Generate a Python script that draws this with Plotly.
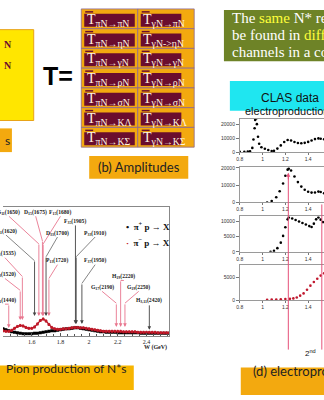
import plotly.graph_objects as go

FIG_W, FIG_H = 324, 400


def px(x):
    return x / FIG_W


def py(y):
    return 1 - y / FIG_H


# ---------------- data ----------------
# total pion-proton cross sections (arbitrary units) vs W (GeV)
pi_w = [1.40, 1.42, 1.44, 1.46, 1.48, 1.50, 1.52, 1.54, 1.56, 1.58, 1.60, 1.62, 1.64, 1.66,
        1.68, 1.70, 1.72, 1.74, 1.76, 1.78, 1.80, 1.82, 1.84, 1.86, 1.88, 1.90, 1.92, 1.94,
        1.96, 1.98, 2.00, 2.02, 2.04, 2.06, 2.08, 2.10, 2.12, 2.14, 2.16, 2.18, 2.20, 2.22,
        2.24, 2.26, 2.28, 2.30, 2.32, 2.34, 2.36, 2.38, 2.40, 2.42, 2.44, 2.46, 2.48, 2.50,
        2.52, 2.54, 2.56]
pim_sigma = [5, 4.5, 4.5, 5.5, 7.5, 9.5, 10.5, 10, 8.5, 7.5, 7.5, 9, 12, 15.5,
             17, 15, 11.5, 8.5, 7, 6.5, 6.5, 7, 7, 7.5, 8, 8.5, 8.5, 8,
             8, 7.5, 7, 6.5, 6, 5.5, 5, 4.5, 4.5, 4.5, 4.5, 4.5, 4.5, 4.5,
             4, 4, 4, 4, 4, 3.5, 3.5, 3.5, 3.5, 3.5, 3.5, 3.5, 3, 3,
             3, 3, 3]
pip_sigma = [7, 6, 5, 4, 3.5, 3, 2.5, 2, 2, 2, 2, 2.5, 2.5, 3,
             3.5, 4, 4.5, 5, 5, 5.5, 6, 6.5, 7, 7, 7.5, 8, 8, 7.5,
             7, 6.5, 6, 5.5, 5, 4.5, 4, 4, 3.5, 3.5, 3.5, 3.5, 3, 3,
             3, 3, 3, 3, 3, 3, 2.5, 2.5, 2.5, 2.5, 2.5, 2.5, 2.5, 2.5,
             2.5, 2.5, 2.5]

# resonances marked on the pion-production plot
res_name = ["S<sub>11</sub>(1650)", "D<sub>15</sub>(1675)", "F<sub>15</sub>(1680)",
            "F<sub>35</sub>(1905)", "S<sub>31</sub>(1620)", "D<sub>33</sub>(1700)",
            "P<sub>33</sub>(1910)", "S<sub>11</sub>(1535)", "P<sub>13</sub>(1720)",
            "F<sub>37</sub>(1950)", "D<sub>13</sub>(1520)", "H<sub>19</sub>(2220)",
            "G<sub>17</sub>(2190)", "G<sub>19</sub>(2250)", "P<sub>11</sub>(1440)",
            "H<sub>3,11</sub>(2420)"]
res_mass = [1.650, 1.675, 1.680, 1.905, 1.620, 1.700, 1.910, 1.535, 1.720, 1.950,
            1.520, 2.220, 2.190, 2.250, 1.440, 2.420]
res_isospin = ["N", "N", "N", "D", "D", "D", "D", "N", "N", "D", "N", "N", "N", "N", "N", "D"]

# electroproduction yields vs W (GeV)
e_w1 = [0.80, 0.84, 0.87, 0.89, 0.91, 0.92, 0.93, 0.935, 0.94, 0.945, 0.95, 0.96, 0.97,
        0.99, 1.02, 1.05, 1.08, 1.10, 1.13, 1.16, 1.19, 1.22, 1.25, 1.28, 1.31, 1.34,
        1.37, 1.40, 1.43, 1.46, 1.49, 1.51, 1.54]
e_y1 = [300, 300, 350, 600, 3000, 9000, 17000, 23000, 26000, 24000, 20000, 11000, 6000,
        3500, 2400, 1500, 800, 900, 2500, 4800, 7200, 8600, 8300, 7200, 6500, 6300,
        6600, 7300, 8300, 9300, 9800, 9600, 9200]

e_w2 = [1.04, 1.08, 1.12, 1.15, 1.18, 1.20, 1.22, 1.23, 1.25, 1.28, 1.31, 1.34, 1.37,
        1.40, 1.43, 1.46, 1.49, 1.51, 1.54]
e_y2 = [0, 800, 3000, 6500, 11000, 15500, 19000, 19500, 18500, 15000, 11800, 9200, 7400,
        6200, 5700, 5800, 6300, 6100, 5300]

e_w3 = [1.07, 1.10, 1.13, 1.16, 1.18, 1.20, 1.22, 1.23, 1.26, 1.29, 1.32, 1.35, 1.38,
        1.41, 1.43, 1.45, 1.47, 1.49, 1.51, 1.53]
e_y3 = [0, 300, 1200, 3000, 5200, 8000, 10600, 11200, 10900, 10400, 9900, 9400, 8900,
        8400, 8100, 9200, 10600, 11200, 10500, 9700]

e_w4 = [1.04, 1.08, 1.12, 1.16, 1.20, 1.24, 1.27, 1.30, 1.33, 1.36, 1.39, 1.42, 1.45,
        1.48, 1.51, 1.54]
e_y4 = [100, 150, 150, 200, 250, 300, 400, 600, 1000, 1500, 2300, 3200, 4000, 4700,
        5400, 5900]

row_channels = ["πN", "ηN", "γN", "ρN", "σN", "KΛ", "KΣ"]
col_initial = ["πN", "γN"]

e_xticks = [0.8, 1, 1.2, 1.4]
e_xtick_text = ["0.8", "1", "1.2", "1.4"]
pi_xticks = [1.4, 1.6, 1.8, 2.0, 2.2, 2.4]
pi_xtick_text = ["1.4", "1.6", "1.8", "2", "2.2", "2.4"]

# ---------------- styling ----------------
ORANGE = "#F3A90F"
MAROON = "#6A0D2E"
PINK = "#E8768E"
GREY = "#777777"
SERIF = "Liberation Serif"
SANS = "Liberation Sans"
HUM = "Lato"

fig = go.Figure()
shapes = []
ann = []

# ---------------- pion production plot ----------------
PI_L, PI_R, PI_T, PI_B = 0, 168, 208, 338
pi_x0, pi_x1 = 1.40, 1.40 + (PI_R - PI_L) / 144.8


def wpx(w):
    return PI_L + (w - pi_x0) * 144.8


fig.add_trace(go.Scatter(x=pi_w, y=pip_sigma, mode="lines+markers",
                         line=dict(color="black", width=1.6),
                         marker=dict(color="black", size=3, symbol="square"),
                         xaxis="x", yaxis="y", showlegend=False))
fig.add_trace(go.Scatter(x=pi_w, y=pim_sigma, mode="lines+markers",
                         line=dict(color="#B01020", width=1.3),
                         marker=dict(color="#C01828", size=3),
                         error_y=dict(type="constant", value=1.0, color="#C01828",
                                      thickness=0.6, width=1),
                         xaxis="x", yaxis="y", showlegend=False))

# label placement (pixel positions of label centre) and line geometry
lab_xy = [(6, 213), (33, 213), (58, 213), (73, 222), (3, 232), (55, 234), (93, 234),
          (2, 255), (55, 262), (93, 262), (2, 276), (122, 278), (100, 289), (137, 289),
          (2, 302), (147, 302)]
kink_y = [245, 242, 245, 226, 262, 258, 258, 278, 280, 285, 292, 282, 305, 305, 306, 306]
tip_y = [318, 318, 318, 326, 318, 318, 326, 322, 318, 326, 322, 329, 329, 329, 330, 332]

for name, m, iso, (lx, ly), ky, ty in zip(res_name, res_mass, res_isospin, lab_xy, kink_y, tip_y):
    col = PINK if iso == "N" else GREY
    ann.append(dict(text=f"<b>{name}</b>", x=px(lx), y=py(ly), xref="paper", yref="paper",
                    showarrow=False, font=dict(family=SERIF, size=5.6, color="#222"),
                    xanchor="center", yanchor="middle"))
    mx = wpx(m)
    sy = ly + 4
    if abs(mx - lx) > 1.5 or ky > sy + 2:
        shapes.append(dict(type="line", xref="paper", yref="paper",
                           x0=px(lx), y0=py(sy), x1=px(mx), y1=py(ky),
                           line=dict(color=col, width=0.9)))
    ann.append(dict(text="", x=m, y=py(ty), xref="x", yref="paper",
                    ax=0, ay=-(ty - ky), axref="pixel", ayref="pixel",
                    showarrow=True, arrowhead=2, arrowsize=0.8, arrowwidth=0.9,
                    arrowcolor=col if iso == "N" else "#444", standoff=0))

# legend entries written into the frame
ann.append(dict(text="<b>•  π<sup>+</sup> p → X</b>", x=px(122), y=py(227), xref="paper",
                yref="paper", showarrow=False, xanchor="left",
                font=dict(family=SERIF, size=9, color="#111")))
ann.append(dict(text="<b><span style='color:#C01828'>·</span>  π<sup>−</sup> p → X</b>",
                x=px(122), y=py(243), xref="paper", yref="paper", showarrow=False,
                xanchor="left", font=dict(family=SERIF, size=9, color="#111")))
ann.append(dict(text="<b>W (GeV)</b>", x=px(168), y=py(355), xref="paper", yref="paper",
                showarrow=False, xanchor="right",
                font=dict(family=SERIF, size=6, color="#222")))

layout_axes = dict(
    xaxis=dict(domain=[px(PI_L), px(PI_R)], range=[pi_x0, pi_x1], anchor="y",
               showgrid=False, zeroline=False, showline=True, mirror=True,
               linecolor="#888", linewidth=0.8, ticks="inside", ticklen=3,
               tickcolor="#555", tickvals=pi_xticks, ticktext=pi_xtick_text,
               tickfont=dict(family=SERIF, size=6, color="#222"),
               minor=dict(ticks="inside", ticklen=1.5, dtick=0.05, tickcolor="#555")),
    yaxis=dict(domain=[py(PI_B), py(PI_T)], range=[0, 130], anchor="x", side="right",
               showgrid=False, zeroline=False, showline=True, linecolor="#888",
               linewidth=0.8, showticklabels=False, ticks=""),
)

# ---------------- electroproduction stack ----------------
stack = [
    (118, 152, [0, 24000], [0, 10000, 20000], e_w1, e_y1, "black"),
    (167, 203, [0, 20600], [0, 10000, 20000], e_w2, e_y2, "black"),
    (217, 253, [0, 11600], [0, 5000, 10000], e_w3, e_y3, "black"),
    (266, 302, [0, 7800], [0, 5000], e_w4, e_y4, "#C0182E"),
    (317, 352, [0, 3900], [0, 2000, 4000], None, None, None),
]
E_L = 239
for i, (top, bot, yr, ytv, wx, wy, col) in enumerate(stack):
    k = i + 2
    xa, ya = f"xaxis{k}", f"yaxis{k}"
    layout_axes[xa] = dict(domain=[px(E_L), 1], range=[0.8, 0.8 + 85 / 115], anchor=f"y{k}",
                           showgrid=False, zeroline=False, showline=True, mirror=True,
                           linecolor="#9a9a9a", linewidth=0.7, ticks="outside", ticklen=2,
                           tickcolor="#777", tickvals=e_xticks, ticktext=e_xtick_text,
                           tickfont=dict(family=SANS, size=5, color="#333"))
    layout_axes[ya] = dict(domain=[py(bot), py(top)], range=yr, anchor=f"x{k}",
                           showgrid=False, zeroline=False, showline=True,
                           linecolor="#9a9a9a", linewidth=0.7, ticks="outside", ticklen=3,
                           tickcolor="#777", tickvals=ytv, ticktext=[str(v) for v in ytv],
                           tickfont=dict(family=SANS, size=5, color="#333"))
    if wx is not None:
        fig.add_trace(go.Scatter(x=wx, y=wy, mode="markers", cliponaxis=True,
                                 marker=dict(color=col, size=2.6),
                                 xaxis=f"x{k}", yaxis=f"y{k}", showlegend=False))

# resonance markers across the stack
for wline, ytop in [(1.226, 174), (1.52, 205)]:
    shapes.append(dict(type="line", xref="x3", yref="paper", x0=wline, x1=wline,
                       y0=py(ytop), y1=py(352), line=dict(color="#E6507A", width=1)))
ann.append(dict(text="", x=1.226, y=py(173), xref="x3", yref="paper", ax=0, ay=8,
                showarrow=True, arrowhead=2, arrowsize=0.8, arrowwidth=1,
                arrowcolor="#E6507A", standoff=0))
ann.append(dict(text="2<sup>nd</sup>", x=px(303), y=py(363), xref="paper", yref="paper",
                showarrow=False, xanchor="left", font=dict(family=SANS, size=8, color="#111")))

# ---------------- boxes and text ----------------
# (a) channel box
shapes.append(dict(type="rect", xref="paper", yref="paper", x0=px(-5), x1=px(31),
                   y0=py(120), y1=py(28), fillcolor="#FFE600",
                   line=dict(color="#E8A317", width=1), layer="below"))
for yy in (35, 57):
    ann.append(dict(text="<b>N</b>", x=px(-1), y=py(yy), xref="paper", yref="paper",
                    showarrow=False, xanchor="left",
                    font=dict(family=SERIF, size=10, color=MAROON)))
shapes.append(dict(type="rect", xref="paper", yref="paper", x0=px(-5), x1=px(9),
                   y0=py(152), y1=py(128), fillcolor=ORANGE, line=dict(width=0), layer="below"))
ann.append(dict(text="s", x=px(0.5), y=py(140), xref="paper", yref="paper", showarrow=False,
                xanchor="left", font=dict(family=HUM, size=12, color="#222")))

ann.append(dict(text="<b>T=</b>", x=px(38), y=py(75), xref="paper", yref="paper",
                xanchor="left", yanchor="middle",
                showarrow=False, font=dict(family=SANS, size=25, color="black")))

# (b) amplitude table
T_L, T_T, CW, RH = 79, 7, 57, 20
for r, fin in enumerate(row_channels):
    for c, ini in enumerate(col_initial):
        x0 = T_L + c * CW
        y0 = T_T + r * RH
        shapes.append(dict(type="rect", xref="paper", yref="paper", x0=px(x0), x1=px(x0 + CW),
                           y0=py(y0 + RH), y1=py(y0), fillcolor=ORANGE,
                           line=dict(color="#8E6A8E", width=0.8), layer="below"))
        wbox = 54 if c == 0 else 44
        shapes.append(dict(type="rect", xref="paper", yref="paper", x0=px(x0 + 3),
                           x1=px(x0 + wbox), y0=py(y0 + 18), y1=py(y0 + 5),
                           fillcolor=MAROON, line=dict(width=0), layer="below"))
        shapes.append(dict(type="line", xref="paper", yref="paper", x0=px(x0 + 4),
                           x1=px(x0 + 12), y0=py(y0 + 3), y1=py(y0 + 3),
                           line=dict(color=MAROON, width=1.5)))
        arrow = "->" if (c == 1 and r == 1) else "→"
        ann.append(dict(text=f"T<sub>{ini}{arrow}{fin}</sub>", x=px(x0 + 3.5), y=py(y0 + 11.5),
                        xref="paper", yref="paper", showarrow=False, xanchor="left",
                        yanchor="middle",
                        font=dict(family=SERIF, size=14, color="#FFF4E0")))

shapes.append(dict(type="rect", xref="paper", yref="paper", x0=px(87), x1=px(187),
                   y0=py(179), y1=py(156), fillcolor=ORANGE, line=dict(width=0), layer="below"))
ann.append(dict(text="(b) Amplitudes", x=px(137), y=py(167.5), xref="paper", yref="paper",
                showarrow=False, font=dict(family=HUM, size=13, color="#222")))

# green statement box
shapes.append(dict(type="rect", xref="paper", yref="paper", x0=px(223), x1=px(330),
                   y0=py(60), y1=py(8), fillcolor="#6E8327", line=dict(width=0), layer="below"))
HL = "#FFFF3A"
lines = [f"The <span style='color:{HL}'>same</span> N* resonances",
         f"be found in <span style='color:{HL}'>different</span>",
         "channels in a coupled"]
for j, t in enumerate(lines):
    ann.append(dict(text=t, x=px(229), y=py(16 + j * 17.5), xref="paper", yref="paper",
                    showarrow=False, xanchor="left", yanchor="middle",
                    font=dict(family=SERIF, size=15, color="white")))

# CLAS box
shapes.append(dict(type="rect", xref="paper", yref="paper", x0=px(229), x1=px(330),
                   y0=py(110), y1=py(80), fillcolor="#1FE6F0", line=dict(width=0), layer="below"))
ann.append(dict(text="CLAS data", x=px(258), y=py(88.5), xref="paper", yref="paper",
                showarrow=False, xanchor="left", font=dict(family=SANS, size=12, color="#111")))
ann.append(dict(text="electroproduction", x=px(242), y=py(102), xref="paper", yref="paper",
                showarrow=False, xanchor="left", font=dict(family=SANS, size=11, color="#111")))

# (c) and (d) captions
shapes.append(dict(type="rect", xref="paper", yref="paper", x0=px(-5), x1=px(132),
                   y0=py(393), y1=py(368), fillcolor="#F7B500", line=dict(width=0), layer="below"))
ann.append(dict(text="Pion production of N*s", x=px(1), y=py(380.5), xref="paper",
                yref="paper", showarrow=False, xanchor="left",
                font=dict(family=HUM, size=12, color="#222")))
shapes.append(dict(type="rect", xref="paper", yref="paper", x0=px(240), x1=px(330),
                   y0=py(398), y1=py(370), fillcolor=ORANGE, line=dict(width=0), layer="below"))
ann.append(dict(text="(d) electroproduction", x=px(250), y=py(384), xref="paper",
                yref="paper", showarrow=False, xanchor="left",
                font=dict(family=HUM, size=13, color="#222")))

fig.update_layout(width=FIG_W, height=FIG_H, margin=dict(l=0, r=0, t=0, b=0),
                  paper_bgcolor="white", plot_bgcolor="rgba(0,0,0,0)",
                  shapes=shapes, annotations=ann, showlegend=False, **layout_axes)

fig.write_html("out.html")
